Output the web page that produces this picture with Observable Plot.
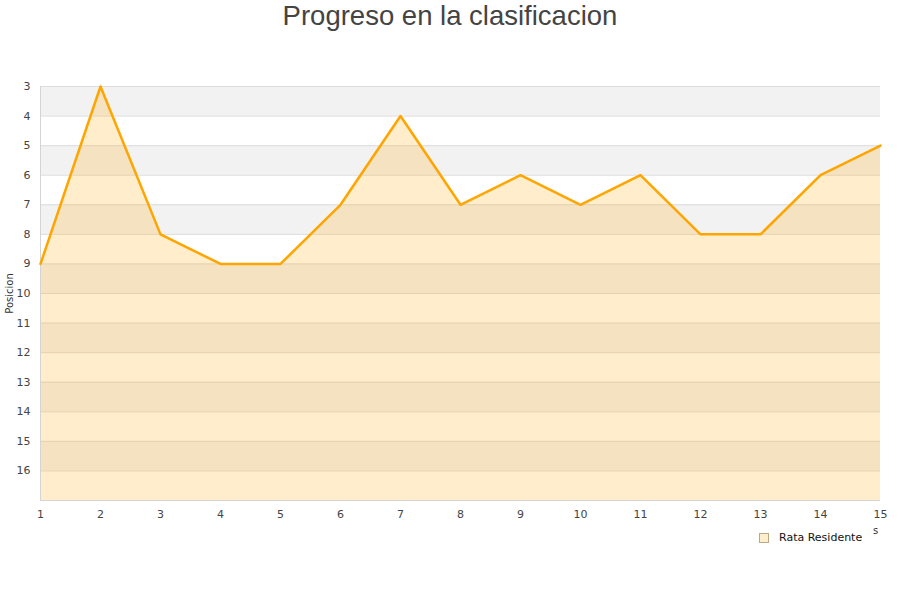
<!DOCTYPE html>
<html>
<head>
<meta charset="utf-8">
<script src="https://cdn.jsdelivr.net/npm/d3@7"></script>
<script src="https://cdn.jsdelivr.net/npm/@observablehq/plot@0.6"></script>
<style>
  html, body { margin: 0; padding: 0; background: #fff; }
  #wrap { position: relative; width: 900px; height: 600px; overflow: hidden; }
  #title { position: absolute; left: 0; top: 0; width: 900px; height: 40px; text-align: center;
    font-family: "Liberation Sans", Arial, sans-serif; font-size: 27.5px; color: #444; line-height: 32px; }
  #chart { position: absolute; left: 0; top: 40px; }
  #legend { position: absolute; left: 759px; top: 531px; font-family: "DejaVu Sans", sans-serif;
    font-size: 11px; color: #111; display: flex; align-items: center; }
  #legend .sw { width: 8px; height: 8px; background: #ffeecc; border: 1px solid #b8a888; margin-right: 10px; }
  #frag { position: absolute; left: 873px; top: 525px; font-family: "DejaVu Sans", sans-serif; font-size: 10px; color: #333; }
</style>
</head>
<body>
<div id="wrap">
  <div id="title">Progreso en la clasificacion</div>
  <div id="chart"></div>
  <div id="frag">s</div>
  <div id="legend"><div class="sw"></div><span id="legendLabel"></span></div>
</div>
<script>
const seriesName = "Rata Residente";
const jornadas = [1, 2, 3, 4, 5, 6, 7, 8, 9, 10, 11, 12, 13, 14, 15];
const posiciones = [9, 3, 8, 9, 9, 7, 4, 7, 6, 7, 6, 8, 8, 6, 5];
const yTicks = [3, 4, 5, 6, 7, 8, 9, 10, 11, 12, 13, 14, 15, 16];
const gridLines = [3, 4, 5, 6, 7, 8, 9, 10, 11, 12, 13, 14, 15, 16, 17];
const bandStarts = [3, 5, 7, 9, 11, 13, 15];
const yMin = 3, yMax = 17;

const data = jornadas.map((j, i) => ({ j, p: posiciones[i] }));
const bands = bandStarts.map(s => ({ a: s, b: s + 1 }));

document.getElementById("legendLabel").textContent = seriesName;

const chart = Plot.plot({
  width: 900,
  height: 560,
  marginTop: 46,
  marginBottom: 100,
  marginLeft: 40,
  marginRight: 20,
  style: { fontFamily: "DejaVu Sans, sans-serif", fontSize: "11px", color: "#444", background: "transparent" },
  x: { domain: [1, 15] },
  y: { domain: [yMin, yMax], reverse: true },
  marks: [
    Plot.rect(bands, { x1: 1, x2: 15, y1: "a", y2: "b", fill: "#f2f2f2" }),
    Plot.ruleY(gridLines, { stroke: "#dcdcdc", strokeWidth: 1 }),
    Plot.areaY(data, { x: "j", y1: yMax, y2: "p", fill: "#ffa500", fillOpacity: 0.2 }),
    Plot.ruleX([1], { stroke: "#d4d4d4" }),
    Plot.ruleY([yMax], { stroke: "#d4d4d4" }),
    Plot.lineY(data, { x: "j", y: "p", stroke: "#ffa500", strokeWidth: 2.5 }),
    Plot.axisY({ ticks: yTicks, tickSize: 0, tickPadding: 10, label: null, fontSize: 11 }),
    Plot.axisX({ ticks: jornadas, tickSize: 0, tickPadding: 10, label: null, fontSize: 11 }),
    Plot.text(["Posicion"], { frameAnchor: "left", textAnchor: "middle", rotate: -90, dx: -31, fontSize: 10, fill: "#333" })
  ]
});
document.getElementById("chart").appendChild(chart);
</script>
</body>
</html>
